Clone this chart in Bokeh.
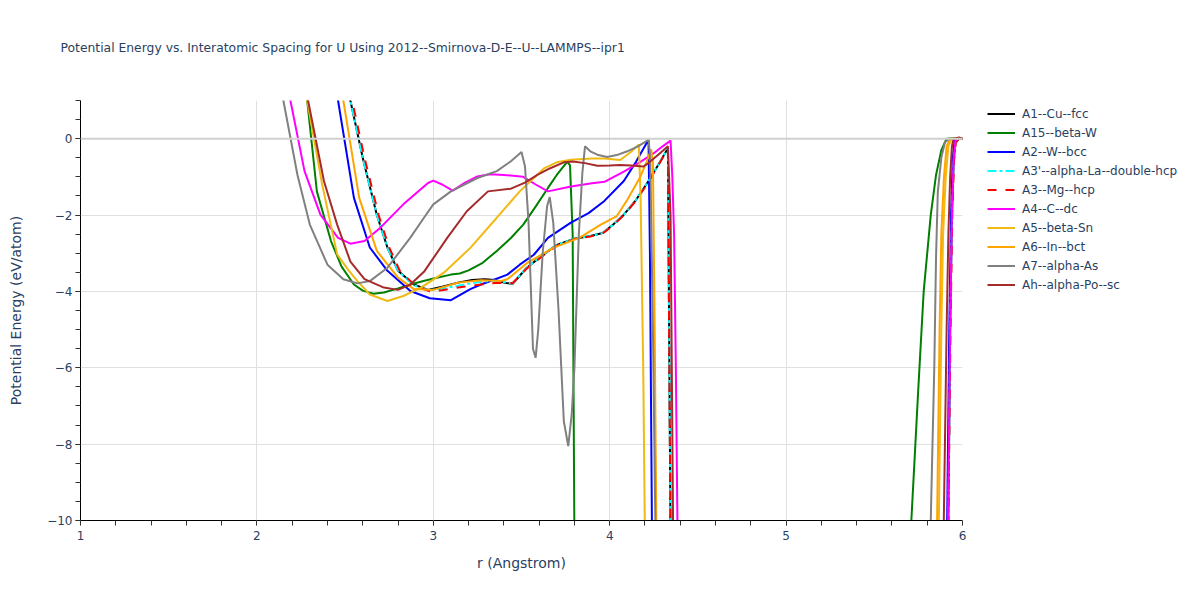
from bokeh.plotting import figure
from bokeh.models import (Legend, LegendItem, SingleIntervalTicker, CustomJSTickFormatter, Span)
from bokeh.embed import file_html
from bokeh.resources import INLINE

# ---------------- data (r in Angstrom, E in eV/atom) ----------------
names = ["A1--Cu--fcc", "A15--beta-W", "A2--W--bcc", "A3'--alpha-La--double-hcp",
         "A3--Mg--hcp", "A4--C--dc", "A5--beta-Sn", "A6--In--bct", "A7--alpha-As",
         "Ah--alpha-Po--sc"]

r_a1 = [2.40, 2.47, 2.53, 2.60, 2.68, 2.74, 2.80, 2.89, 2.97, 3.05, 3.14, 3.22, 3.29, 3.35, 3.40, 3.45,
        3.53, 3.62, 3.70, 3.80, 3.89, 3.96, 4.02, 4.08, 4.15, 4.22, 4.28, 4.33, 4.345, 4.36,
        5.90, 5.92, 5.93, 5.94, 5.95, 5.96, 5.98, 6.00]
e_a1 = [5.0, 2.5, 1.0, -0.5, -2.0, -2.85, -3.46, -3.82, -3.96, -3.88, -3.77, -3.70, -3.68, -3.70, -3.77, -3.80,
        -3.38, -3.05, -2.78, -2.62, -2.55, -2.47, -2.25, -1.99, -1.60, -1.11, -0.65, -0.25, -10.5, -12,
        -12, -10, -5, -2, -0.6, -0.1, 0.0, 0.0]

r_a15 = [2.22, 2.285, 2.34, 2.42, 2.48, 2.55, 2.60, 2.66, 2.72, 2.80, 2.87, 2.95, 3.02, 3.10, 3.15, 3.20,
         3.28, 3.36, 3.44, 3.51, 3.58, 3.65, 3.70, 3.76, 3.775, 3.79, 3.80, 3.82,
         5.69, 5.71, 5.75, 5.78, 5.82, 5.85, 5.88, 5.91, 5.95, 6.00]
e_a15 = [4.0, 1.0, -1.38, -2.68, -3.35, -3.82, -3.98, -4.06, -4.03, -3.92, -3.82, -3.72, -3.64, -3.56, -3.53, -3.45,
         -3.25, -2.94, -2.60, -2.25, -1.78, -1.29, -0.95, -0.60, -0.70, -2.5, -10.5, -12,
         -12, -10, -6.5, -4.0, -2.0, -0.95, -0.3, 0.0, 0.01, 0.0]

r_a2 = [2.38, 2.46, 2.55, 2.64, 2.74, 2.87, 2.98, 3.10, 3.21, 3.27, 3.34, 3.42, 3.49, 3.57, 3.65, 3.78,
        3.88, 3.97, 4.08, 4.15, 4.22, 4.228, 4.24, 4.26,
        5.89, 5.913, 5.925, 5.935, 5.945, 5.955, 5.97, 6.00]
e_a2 = [5.0, 1.0, -1.55, -2.85, -3.46, -3.99, -4.18, -4.23, -3.94, -3.82, -3.70, -3.56, -3.30, -3.04, -2.60, -2.20,
        -1.95, -1.63, -1.11, -0.60, -0.03, -3.0, -10.5, -12,
        -12, -10, -5, -2, -0.5, -0.05, 0.0, 0.0]

r_a3p = [2.40, 2.47, 2.53, 2.60, 2.68, 2.74, 2.80, 2.89, 2.97, 3.05, 3.14, 3.25, 3.35, 3.45,
         3.53, 3.62, 3.70, 3.80, 3.89, 3.96, 4.02, 4.08, 4.15, 4.22, 4.28, 4.33, 4.345, 4.36,
         5.90, 5.92, 5.93, 5.94, 5.95, 5.96, 5.98, 6.00]
e_a3p = [5.0, 2.5, 1.0, -0.5, -2.0, -2.85, -3.46, -3.84, -3.97, -3.93, -3.85, -3.76, -3.72, -3.79,
         -3.38, -3.05, -2.78, -2.62, -2.55, -2.47, -2.25, -1.99, -1.60, -1.11, -0.65, -0.25, -10.5, -12,
         -12, -10, -5, -2, -0.6, -0.1, 0.0, 0.0]

r_a3 = [2.41, 2.48, 2.54, 2.61, 2.69, 2.75, 2.81, 2.90, 2.98, 3.05, 3.14, 3.25, 3.35, 3.45,
        3.53, 3.62, 3.70, 3.80, 3.89, 3.96, 4.02, 4.08, 4.15, 4.22, 4.28, 4.33, 4.345, 4.36,
        5.90, 5.92, 5.932, 5.942, 5.952, 5.962, 5.98, 6.00]
e_a3 = [5.0, 2.5, 1.0, -0.5, -2.0, -2.85, -3.46, -3.86, -4.00, -3.97, -3.90, -3.83, -3.78, -3.78,
        -3.40, -3.07, -2.80, -2.63, -2.56, -2.48, -2.27, -2.00, -1.62, -1.13, -0.66, -0.26, -10.5, -12,
        -12, -10, -5, -2, -0.6, -0.1, 0.0, 0.0]

r_a4 = [2.05, 2.12, 2.19, 2.27, 2.36, 2.46, 2.53, 2.61, 2.70, 2.83, 2.97, 3.00, 3.05, 3.11, 3.18, 3.25,
        3.32, 3.40, 3.51, 3.58, 3.65, 3.78, 3.90, 3.97, 4.08, 4.17, 4.25, 4.30, 4.345, 4.355,
        4.365, 4.375, 4.385, 4.40,
        5.90, 5.918, 5.93, 5.94, 5.95, 5.96, 5.975, 6.00]
e_a4 = [5.0, 2.6, 1.0, -0.85, -1.99, -2.60, -2.75, -2.68, -2.33, -1.72, -1.16, -1.10, -1.20, -1.36, -1.15, -0.99,
        -0.93, -0.95, -1.00, -1.20, -1.38, -1.25, -1.17, -1.13, -0.86, -0.62, -0.38, -0.20, -0.05, -1.0,
        -2.5, -6.0, -10.5, -12,
        -12, -10, -5, -2, -0.5, -0.05, 0.0, 0.0]

r_a5 = [2.22, 2.285, 2.37, 2.455, 2.52, 2.57, 2.64, 2.74, 2.83, 2.93, 3.06, 3.21, 3.36, 3.49, 3.63, 3.70,
        3.78, 3.90, 3.97, 4.06, 4.12, 4.165, 4.175, 4.19, 4.20, 4.22,
        5.85, 5.866, 5.88, 5.89, 5.905, 5.92, 5.94, 6.00]
e_a5 = [4.0, 1.0, -1.2, -3.03, -3.45, -3.73, -4.08, -4.25, -4.12, -3.90, -3.51, -2.86, -2.07, -1.38, -0.77, -0.62,
        -0.55, -0.52, -0.52, -0.56, -0.35, -0.15, -1.5, -6.0, -10.5, -12,
        -12, -10, -5, -2.5, -1.0, -0.2, 0.0, 0.0]

r_a6 = [2.42, 2.49, 2.58, 2.68, 2.80, 2.89, 3.00, 3.14, 3.27, 3.38, 3.42, 3.53, 3.68, 3.83, 3.95, 4.04,
        4.10, 4.17, 4.21, 4.235, 4.245, 4.255, 4.265, 4.28,
        5.84, 5.856, 5.87, 5.88, 5.895, 5.91, 5.93, 6.00]
e_a6 = [4.0, 1.0, -1.55, -2.94, -3.64, -3.94, -3.96, -3.77, -3.71, -3.73, -3.68, -3.26, -2.86, -2.59, -2.25, -2.03,
        -1.60, -1.03, -0.60, -0.28, -0.60, -5.0, -10.5, -12,
        -12, -10, -5, -2.5, -1.0, -0.2, 0.0, 0.0]

r_a7 = [2.08, 2.15, 2.23, 2.30, 2.40, 2.49, 2.57, 2.64, 2.74, 2.87, 2.95, 3.00, 3.10, 3.25, 3.36, 3.44,
        3.50, 3.52, 3.54, 3.565, 3.58, 3.595, 3.62, 3.645, 3.66, 3.68, 3.71, 3.74, 3.765, 3.785,
        3.80, 3.825, 3.845, 3.86, 3.89, 3.93, 3.985, 4.04, 4.10, 4.16, 4.22, 4.23, 4.245, 4.26, 4.28,
        5.80, 5.82, 5.84, 5.85, 5.86, 5.88, 5.90, 5.925, 6.00]
e_a7 = [5.0, 1.0, -0.95, -2.25, -3.30, -3.68, -3.79, -3.73, -3.38, -2.59, -2.05, -1.72, -1.38, -1.03, -0.85, -0.59,
        -0.35, -0.73, -2.2, -5.5, -5.74, -5.0, -3.0, -1.77, -1.53, -2.2, -4.5, -7.4, -8.05, -7.2,
        -6.0, -2.5, -0.9, -0.2, -0.33, -0.42, -0.48, -0.43, -0.33, -0.20, -0.03, -0.5, -5.0, -10.5, -12,
        -12, -10, -6, -3.1, -1.4, -0.5, -0.1, 0.0, 0.0]

r_ah = [2.22, 2.29, 2.38, 2.455, 2.53, 2.61, 2.72, 2.80, 2.87, 2.95, 3.08, 3.19, 3.31, 3.44, 3.52, 3.59,
        3.66, 3.74, 3.79, 3.86, 3.93, 4.00, 4.06, 4.12, 4.19, 4.22, 4.28, 4.33, 4.345, 4.36, 4.38,
        5.87, 5.894, 5.91, 5.92, 5.93, 5.94, 5.95, 5.98, 6.00]
e_ah = [4.0, 1.0, -1.11, -2.25, -3.22, -3.68, -3.90, -3.96, -3.82, -3.47, -2.59, -1.90, -1.38, -1.31, -1.15, -0.95,
        -0.78, -0.62, -0.60, -0.64, -0.71, -0.70, -0.69, -0.70, -0.73, -0.64, -0.40, -0.20, -2.0, -10.5, -12,
        -12, -10, -5, -2.5, -1.0, -0.2, 0.0, 0.03, 0.0]

series_r = [r_a1, r_a15, r_a2, r_a3p, r_a3, r_a4, r_a5, r_a6, r_a7, r_ah]
series_e = [e_a1, e_a15, e_a2, e_a3p, e_a3, e_a4, e_a5, e_a6, e_a7, e_ah]
colors = ["#000000", "#008000", "#0000ff", "#00ffff", "#ff0000", "#ff00ff",
          "#f0b913", "#ffa500", "#808080", "#a52a2a"]
dashes = ["solid", "solid", "solid", "9 3 3 3", "9 9", "solid", "solid", "solid", "solid", "solid"]

FONT = "DejaVu Sans"
TXT = "#2a3f5f"

p = figure(frame_width=882, frame_height=420, x_range=(1, 6), y_range=(-10, 1),
           output_backend="svg", toolbar_location=None,
           min_border_left=80, min_border_top=100, min_border_right=230, min_border_bottom=72,
           margin=(-8, 0, 0, 0),
           title="Potential Energy vs. Interatomic Spacing for U Using 2012--Smirnova-D-E--U--LAMMPS--ipr1")
p.outline_line_color = None
p.background_fill_color = "white"

p.title.text_font = FONT
p.title.text_font_size = "12.35px"
p.title.text_font_style = "normal"
p.title.text_color = TXT
p.title.align = "left"
p.title.offset = -20
p.title.vertical_align = "bottom"
p.title.standoff = 92

xt = SingleIntervalTicker(interval=1, num_minor_ticks=5)
yt = SingleIntervalTicker(interval=2, num_minor_ticks=4)
p.xaxis.ticker = xt
p.yaxis.ticker = yt
p.xgrid.ticker = xt
p.ygrid.ticker = yt
p.xgrid.grid_line_color = "#e0e0e0"
p.ygrid.grid_line_color = "#e0e0e0"

for ax in (p.xaxis[0], p.yaxis[0]):
    ax.axis_line_color = "black"
    ax.axis_line_width = 1
    ax.major_tick_out = 5
    ax.major_tick_in = 0
    ax.minor_tick_out = 5
    ax.minor_tick_in = 0
    ax.minor_tick_line_color = "#333333"
    ax.major_label_text_font = FONT
    ax.major_label_text_font_size = "12px"
    ax.major_label_text_color = TXT
    ax.axis_label_text_font = FONT
    ax.axis_label_text_font_size = "14px"
    ax.axis_label_text_font_style = "normal"
    ax.axis_label_text_color = TXT

p.xaxis.major_label_standoff = 5
p.yaxis.major_label_standoff = 3
p.xaxis.major_tick_line_color = "#b0b0b0"
p.yaxis.major_tick_line_color = "#333333"
p.xaxis.axis_label = "r (Angstrom)"
p.yaxis.axis_label = "Potential Energy (eV/atom)"
p.xaxis.axis_label_standoff = 12
p.yaxis.axis_label_standoff = 20
p.yaxis.formatter = CustomJSTickFormatter(code="return tick < 0 ? '\\u2212' + Math.abs(tick) : '' + tick;")

p.add_layout(Span(location=0, dimension="width", line_color="#d0d0d0", line_width=2))

items = []
for name, rr, ee, c, d in zip(names, series_r, series_e, colors, dashes):
    rend = p.line(rr, ee, line_color=c, line_width=2, line_dash=d)
    items.append(LegendItem(label=name, renderers=[rend]))

legend = Legend(items=items, location=(25, 226), orientation="vertical",
                glyph_width=28, glyph_height=19, label_height=19, spacing=0,
                padding=0, margin=0, label_standoff=7,
                border_line_alpha=0, background_fill_alpha=0,
                label_text_font=FONT, label_text_font_size="12px", label_text_color=TXT)
p.add_layout(legend, "right")

open("out.html", "w").write(file_html(p, INLINE))
